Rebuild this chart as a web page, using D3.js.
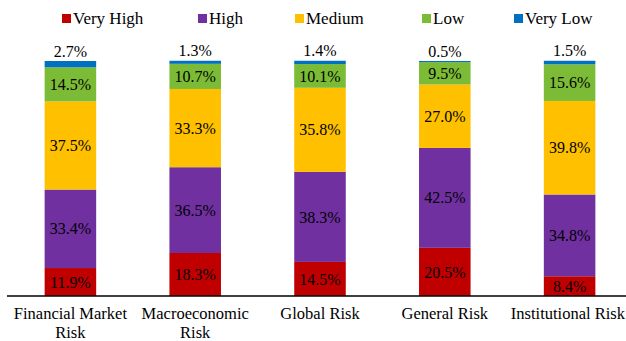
<!DOCTYPE html>
<html>
<head>
	<meta charset="utf-8">
	<script src="https://cdnjs.cloudflare.com/ajax/libs/d3/7.8.5/d3.min.js"></script>
	<style type="text/css">
		body { margin: 0; background: #fff; }
		text { font-family: "Palatino Linotype", "Book Antiqua", "Liberation Serif", serif; fill: #000; }
	</style>
</head>
<body>
	<script type="text/javascript">

		let categories = ['Financial Market Risk', 'Macroeconomic Risk', 'Global Risk', 'General Risk', 'Institutional Risk'];
		let catLines = [['Financial Market', 'Risk'], ['Macroeconomic', 'Risk'], ['Global Risk'], ['General Risk'], ['Institutional Risk']];
		let levels = ['Very High', 'High', 'Medium', 'Low', 'Very Low'];
		let colors = ['#C00000', '#7030A0', '#FFC000', '#7CBB35', '#0070C0'];

		let veryHigh = [11.9, 18.3, 14.5, 20.5, 8.4];
		let high = [33.4, 36.5, 38.3, 42.5, 34.8];
		let medium = [37.5, 33.3, 35.8, 27.0, 39.8];
		let low = [14.5, 10.7, 10.1, 9.5, 15.6];
		let veryLow = [2.7, 1.3, 1.4, 0.5, 1.5];

		let seriesValues = [veryHigh, high, medium, low, veryLow];

		let data = categories.map((c, i) => {
			let row = { cat: c };
			levels.forEach((l, j) => row[l] = seriesValues[j][i]);
			return row;
		});

		let width = 626, height = 341;
		let svg = d3.select('body').append('svg')
			.attr('width', width)
			.attr('height', height);

		let xScale = d3.scaleBand().domain(categories).range([8, 632]).paddingInner(0.587).paddingOuter(0.2935);
		let yScale = d3.scaleLinear().domain([0, 100]).range([296, 61]);
		let color = d3.scaleOrdinal().domain(levels).range(colors);

		let stacked = d3.stack().keys(levels)(data);

		let groups = svg.selectAll('g.series').data(stacked).enter().append('g')
			.attr('class', 'series')
			.attr('fill', d => color(d.key));

		groups.selectAll('rect').data(d => d).enter().append('rect')
			.attr('x', d => xScale(d.data.cat))
			.attr('y', d => yScale(d[1]))
			.attr('width', xScale.bandwidth())
			.attr('height', d => yScale(d[0]) - yScale(d[1]));

		// labels inside the segments, the last series above the bar
		stacked.forEach((s, si) => {
			svg.append('g').selectAll('text').data(s).enter().append('text')
				.attr('x', d => xScale(d.data.cat) + xScale.bandwidth() / 2)
				.attr('y', d => si === levels.length - 1 ? yScale(d[1]) - 10 : (yScale(d[0]) + yScale(d[1])) / 2)
				.attr('dy', '0.35em')
				.attr('text-anchor', 'middle')
				.style('font-size', '16px')
				.text(d => d.data[s.key].toFixed(1) + '%');
		});

		// baseline
		svg.append('line')
			.attr('x1', 7).attr('x2', width)
			.attr('y1', yScale(0)).attr('y2', yScale(0))
			.attr('stroke', '#000')
			.attr('stroke-width', 1.3);

		// category labels (kept inside the right edge)
		let xl = svg.append('g').selectAll('text').data(categories).enter().append('text')
			.attr('y', 319)
			.attr('text-anchor', 'middle')
			.style('font-size', '16.5px');
		xl.each(function(d, i) {
			let t = d3.select(this);
			catLines[i].forEach((ln, k) => {
				t.append('tspan').attr('dy', k === 0 ? 0 : 19).text(ln);
			});
			let w = this.getComputedTextLength ? d3.max(t.selectAll('tspan').nodes(), n => n.getComputedTextLength()) : 0;
			let cx = Math.min(xScale(d) + xScale.bandwidth() / 2, width - 1 - w / 2);
			t.selectAll('tspan').attr('x', cx);
		});

		// legend
		let legendX = [62, 198, 295, 422, 514];
		let leg = svg.append('g').selectAll('g').data(levels).enter().append('g')
			.attr('transform', (d, i) => 'translate(' + legendX[i] + ',14)');
		leg.append('rect').attr('width', 9).attr('height', 9).attr('fill', d => color(d));
		leg.append('text').attr('x', 11).attr('y', 4.5).attr('dy', '0.35em')
			.style('font-size', '17px')
			.text(d => d);
	</script>
</body>
</html>
